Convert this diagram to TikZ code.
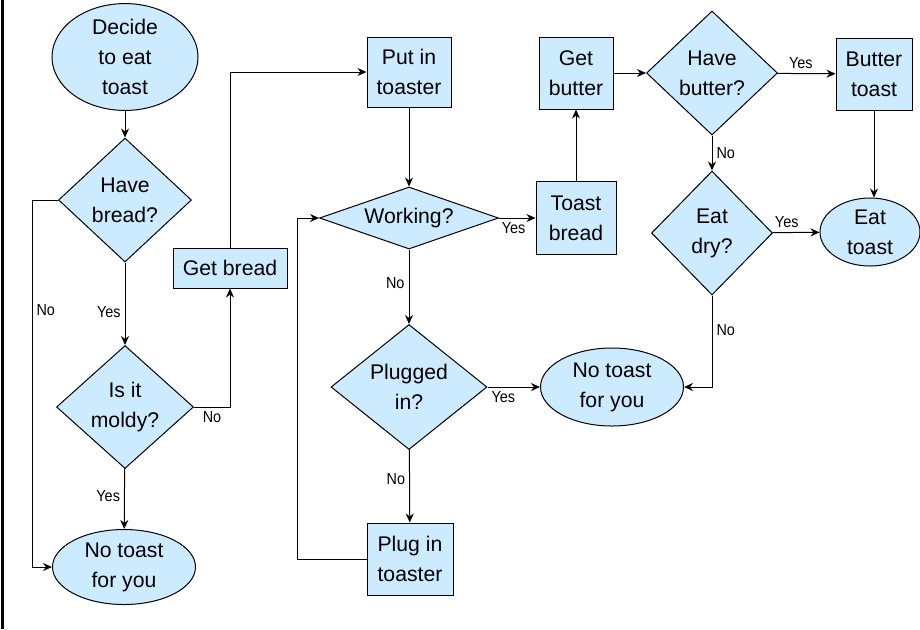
\documentclass[tikz,border=0pt]{standalone}
\usepackage{fontspec}
\setmainfont{Liberation Sans}
\newfontfamily\lblfont[FakeStretch=0.9]{Liberation Sans}
\usetikzlibrary{shapes.geometric,arrows.meta}

\definecolor{boxblue}{RGB}{204,235,255}

\tikzset{
  base/.style={draw=black, line width=0.5pt, fill=boxblue, inner sep=0pt,
    align=center, font=\fontsize{10.6}{15}\selectfont},
  proc/.style={base, rectangle},
  term/.style={base, ellipse},
  dec/.style={base, diamond, shape aspect=1},
  flow/.style={line width=0.5pt, -{Stealth[length=4.5pt,width=4pt]}},
  lbl/.style={font=\lblfont\fontsize{8}{9}\selectfont, inner sep=2pt},
}

\begin{document}
\begin{tikzpicture}[x=0.5pt,y=-0.5pt]
    % 図全体の大きさ
    \useasboundingbox (0,0) rectangle (920,629);

    % 左端の枠線
    \draw[line width=1.5pt] (2.5,0) -- (2.5,629);

    % 左の列: パンの確認
    \node[term, minimum width=73pt, minimum height=53pt] (start) at (125,57) {Decide\\to eat\\toast};
    \node[dec, minimum width=66.5pt, minimum height=62pt] (bread) at (125,200) {Have\\bread?};
    \node[dec, minimum width=68.5pt, minimum height=61.5pt] (moldy) at (125,407) {Is it\\moldy?};
    \node[term, minimum width=71.5pt, minimum height=37.5pt] (notoastA) at (124,567) {No toast\\for you};
    \node[proc, minimum width=57pt, minimum height=20pt] (getbread) at (230,268) {Get bread};

    % 中央の列: トースター
    \node[proc, minimum width=42pt, minimum height=35pt] (putin) at (409,72) {Put in\\toaster};
    \node[dec, shape aspect=2.9, minimum width=89.5pt, minimum height=31pt] (working) at (409,218) {Working?};
    \node[dec, shape aspect=1.25, minimum width=78pt, minimum height=62.5pt] (plugged) at (409,387) {Plugged\\in?};
    \node[proc, minimum width=43pt, minimum height=36pt] (plugin) at (410,559) {Plug in\\toaster};
    \node[term, minimum width=71.5pt, minimum height=39pt] (notoastB) at (612,387) {No toast\\for you};

    % 右の列: バター
    \node[proc, minimum width=40pt, minimum height=36.5pt] (toast) at (576,218) {Toast\\bread};
    \node[proc, minimum width=37pt, minimum height=36pt] (getbutter) at (576,73) {Get\\butter};
    \node[dec, minimum width=65.5pt, minimum height=62pt] (havebutter) at (712,73) {Have\\butter?};
    \node[proc, minimum width=38pt, minimum height=36pt] (buttertoast) at (874,74) {Butter\\toast};
    \node[dec, minimum width=60.5pt, minimum height=62pt] (eatdry) at (712,233) {Eat\\dry?};
    \node[term, minimum width=50pt, minimum height=34pt] (eattoast) at (870,232) {Eat\\toast};

    % 矢印
    \draw[flow] (start) -- (bread);
    \draw[flow] (bread.west) -- ++(-26,0) |- node[lbl, pos=0.15, right] {No} (notoastA.west);
    \draw[flow] (bread) -- node[lbl, pos=0.6, left] {Yes} (moldy);
    \draw[flow] (moldy) -- node[lbl, pos=0.45, left] {Yes} (notoastA);
    \draw[flow] (moldy.east) -| node[lbl, pos=0.25, below] {No} (getbread.south);
    \draw[flow] (getbread.north) |- (putin.west);
    \draw[flow] (putin) -- (working);
    \draw[flow] (working) -- node[lbl, pos=0.4, below] {Yes} (toast);
    \draw[flow] (working) -- node[lbl, pos=0.45, left] {No} (plugged);
    \draw[flow] (plugged) -- node[lbl, pos=0.3, below] {Yes} (notoastB);
    \draw[flow] (plugged) -- node[lbl, pos=0.4, left] {No} (plugin);
    \draw[flow] (plugin.west) -- ++(-69,0) |- (working.west);
    \draw[flow] (toast) -- (getbutter);
    \draw[flow] (getbutter) -- (havebutter);
    \draw[flow] (havebutter) -- node[lbl, pos=0.4, above] {Yes} (buttertoast);
    \draw[flow] (buttertoast.south) -- (buttertoast.south |- eattoast.north);
    \draw[flow] (havebutter) -- node[lbl, pos=0.5, right] {No} (eatdry);
    \draw[flow] (eatdry) -- node[lbl, pos=0.3, above] {Yes} (eattoast);
    \draw[flow] (eatdry.south) |- node[lbl, pos=0.19, right] {No} (notoastB.east);

  \end{tikzpicture}
\end{document}
